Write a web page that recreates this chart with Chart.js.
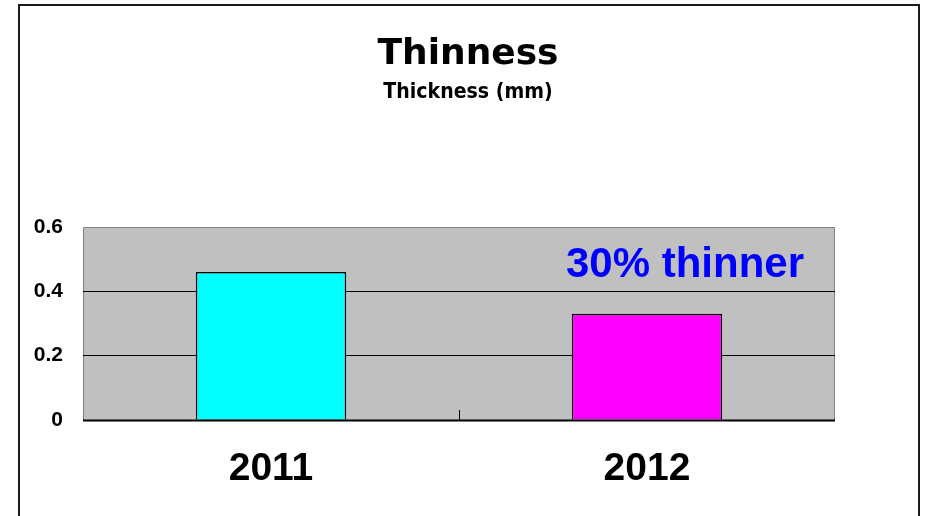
<!DOCTYPE html>
<html>
<head>
<meta charset="utf-8">
<script src="https://cdn.jsdelivr.net/npm/chart.js@4/dist/chart.umd.min.js"></script>
<style>
html,body{margin:0;padding:0;background:#fff;}
#wrap{width:935px;height:516px;position:relative;}
</style>
</head>
<body>
<div id="wrap"><canvas id="c" width="935" height="516"></canvas></div>
<script>
const categories = ["2011", "2012"];
const thickness = [0.46, 0.33];
const barColors = ["#00FFFF", "#FF00FF"];
const yTickValues = [0, 0.2, 0.4, 0.6];
const yTickLabels = ["0", "0.2", "0.4", "0.6"];
const titleText = "Thinness";
const subtitleText = "Thickness (mm)";
const annotationText = "30% thinner";

const FONT = "'Liberation Sans', Arial, sans-serif";
const TFONT = "'DejaVu Sans', sans-serif";

const decor = {
  id: 'decor',
  beforeDraw(chart) {
    const {ctx, chartArea: a} = chart;
    ctx.save();
    ctx.fillStyle = '#fff';
    ctx.fillRect(0, 0, chart.width, chart.height);
    // outer frame
    ctx.strokeStyle = '#1a1a1a';
    ctx.lineWidth = 2;
    ctx.strokeRect(19, 5, 900, 530);
    // plot background
    ctx.fillStyle = '#C0C0C0';
    ctx.fillRect(a.left, a.top, a.right - a.left, a.bottom - a.top);
    ctx.strokeStyle = '#808080';
    ctx.lineWidth = 1;
    ctx.beginPath();
    ctx.moveTo(a.left + 0.5, a.bottom);
    ctx.lineTo(a.left + 0.5, a.top + 0.5);
    ctx.lineTo(a.right - 0.5, a.top + 0.5);
    ctx.lineTo(a.right - 0.5, a.bottom);
    ctx.stroke();
    // titles
    ctx.fillStyle = '#000';
    ctx.textAlign = 'center';
    ctx.textBaseline = 'alphabetic';
    ctx.font = "bold 36px " + TFONT;
    ctx.fillText(titleText, 468, 64);
    ctx.font = "bold 19px " + TFONT;
    ctx.save();
    ctx.translate(468, 98);
    ctx.scale(1, 1.15);
    ctx.fillText(subtitleText, 0, 0);
    ctx.restore();
    ctx.restore();
  },
  afterDatasetsDraw(chart) {
    const {ctx, chartArea: a, scales} = chart;
    const x = scales.x;
    ctx.save();
    // middle category tick
    const mid = Math.round((x.getPixelForValue(0) + x.getPixelForValue(1)) / 2) + 0.5;
    ctx.strokeStyle = '#000';
    ctx.lineWidth = 1;
    ctx.beginPath();
    ctx.moveTo(mid, a.bottom - 10);
    ctx.lineTo(mid, a.bottom);
    ctx.stroke();
    // x axis line
    ctx.lineWidth = 2;
    ctx.beginPath();
    ctx.moveTo(a.left, a.bottom + 0.5);
    ctx.lineTo(a.right, a.bottom + 0.5);
    ctx.stroke();
    // annotation
    ctx.fillStyle = '#0000FF';
    ctx.font = "bold 42px " + FONT;
    ctx.textAlign = 'center';
    ctx.textBaseline = 'alphabetic';
    ctx.fillText(annotationText, 685, 277);
    ctx.restore();
  }
};

new Chart(document.getElementById('c'), {
  type: 'bar',
  data: {
    labels: categories,
    datasets: [{
      data: thickness,
      backgroundColor: barColors,
      borderColor: '#000',
      borderWidth: 1.5,
      barPercentage: 0.4,
      categoryPercentage: 1.0
    }]
  },
  options: {
    responsive: false,
    animation: false,
    devicePixelRatio: 1,
    layout: { padding: { top: 227, right: 100, left: 0, bottom: 0 } },
    plugins: { legend: { display: false }, tooltip: { enabled: false }, title: { display: false } },
    scales: {
      x: {
        grid: { display: false, drawTicks: false },
        border: { display: false },
        ticks: { color: '#000', font: { family: FONT, size: 39, weight: 'bold' }, padding: 26, maxRotation: 0 },
        afterFit(s) { s.height = 96; }
      },
      y: {
        min: 0, max: 0.6,
        afterBuildTicks(s) { s.ticks = yTickValues.map(v => ({ value: v })); },
        grid: {
          drawTicks: false,
          color: (c) => (c.tick && c.tick.value > 0 && c.tick.value < 0.6) ? '#000' : 'rgba(0,0,0,0)',
          lineWidth: 1
        },
        border: { display: false },
        ticks: {
          color: '#000',
          font: { family: FONT, size: 21, weight: 'bold' },
          padding: 20,
          callback: (v) => { const i = yTickValues.indexOf(v); return i >= 0 ? yTickLabels[i] : ''; }
        },
        afterFit(s) { s.width = 83; }
      }
    }
  },
  plugins: [decor]
});
</script>
</body>
</html>
